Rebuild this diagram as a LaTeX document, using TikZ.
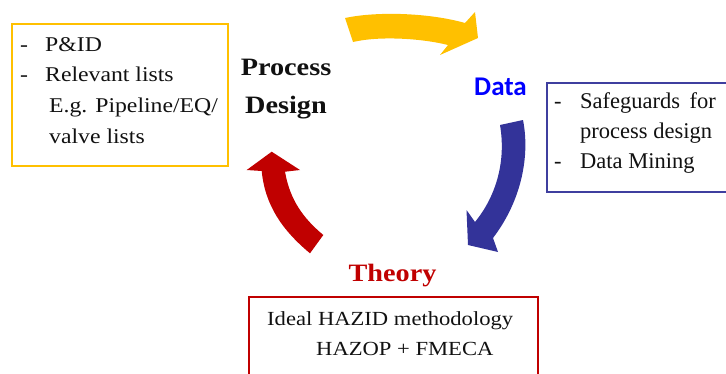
\documentclass[tikz,border=0pt]{standalone}
\usepackage{fontspec}
\setmainfont{Liberation Serif}
\newfontfamily\camfont[FakeStretch=1.13]{Liberation Serif}
\newfontfamily\datafont{Carlito}
\definecolor{cyellow}{HTML}{FFC000}
\definecolor{cblue}{HTML}{333399}
\definecolor{cbluebox}{HTML}{3F3F9F}
\definecolor{cred}{HTML}{C00000}
\definecolor{ctext}{HTML}{111111}
\tikzset{
  txt/.style={anchor=base west, inner sep=0pt, text=ctext},
  frame/.style={line width=2.6pt},
  title/.style={anchor=base, inner sep=0pt},
}
\begin{document}
\begin{tikzpicture}[x=1pt,y=-1pt]
\useasboundingbox (0,0) rectangle (726,373);
\clip (0,0) rectangle (726,373);

% ---- Process design box (yellow) ----
\draw[frame, cyellow] (12,24) rectangle (228,166);
\begin{scope}[font=\camfont\fontsize{21}{25}\selectfont]
  \node[txt] (d1) at (20,51.7) {-};
  \node[txt] (pid) at (45,51.7) {P\&ID};
  \node[txt] (d2) at (20,81.7) {-};
  \node[txt] (rel) at (45,81.7) {Relevant lists};
  \node[txt] (eg) at (49,112.5) {E.g. Pipeline/EQ/};
  \node[txt] (valve) at (49,143) {valve lists};
\end{scope}
\begin{scope}[font=\camfont\bfseries\fontsize{25}{30}\selectfont]
  \node[title, text=ctext] (proc) at (286,75) {Process};
  \node[title, text=ctext] (des) at (286,113.3) {Design};
\end{scope}

% ---- Data box (blue) ----
\node[title, text=blue, font=\datafont\bfseries\fontsize{27}{30}\selectfont] (data) at (500.5,95) {Data};
\draw[frame, cbluebox] (547,83) rectangle (740,192);
\begin{scope}[font=\fontsize{22.5}{26}\selectfont]
  \node[txt] (d3) at (554,108.3) {-};
  \node[txt] (safe) at (580,108.3) {Safeguards\, for};
  \node[txt] (pdes) at (580,138.3) {process design};
  \node[txt] (d4) at (554,168.3) {-};
  \node[txt] (mine) at (580,168.3) {Data Mining};
\end{scope}

% ---- Theory box (red) ----
\node[title, text=cred, font=\camfont\bfseries\fontsize{25}{30}\selectfont] (theory) at (392.5,281.5) {Theory};
\draw[frame, cred] (249,297) rectangle (538,390);
\begin{scope}[font=\camfont\fontsize{20}{24}\selectfont]
  \node[txt] (ideal) at (267,325) {Ideal HAZID methodology};
  \node[txt] (hazop) at (316,355) {HAZOP + FMECA};
\end{scope}

% ---- cycle arrows ----
% yellow: process design -> data
\fill[cyellow] (345,18) .. controls (378,11) and (430,13) .. (465,23)
  -- (475,12) -- (478,38) -- (440,55) -- (448,45)
  .. controls (420,38) and (378,36) .. (353,42) -- cycle;
% blue: data -> theory
\fill[cblue] (500,125) -- (523,120)
  .. controls (530,155) and (522,200) .. (493,238)
  -- (498,252) -- (468,245) -- (466.5,210) -- (475,222)
  .. controls (497,195) and (506,160) .. cycle;
% red: theory -> process design
\fill[cred] (310,253.3) -- (323.3,235)
  .. controls (303,218) and (290,200) .. (285,171.7)
  -- (300,170) -- (271.7,151.7) -- (246.7,170) -- (261.7,171)
  .. controls (265,205) and (282,230) .. cycle;
\end{tikzpicture}
\end{document}
